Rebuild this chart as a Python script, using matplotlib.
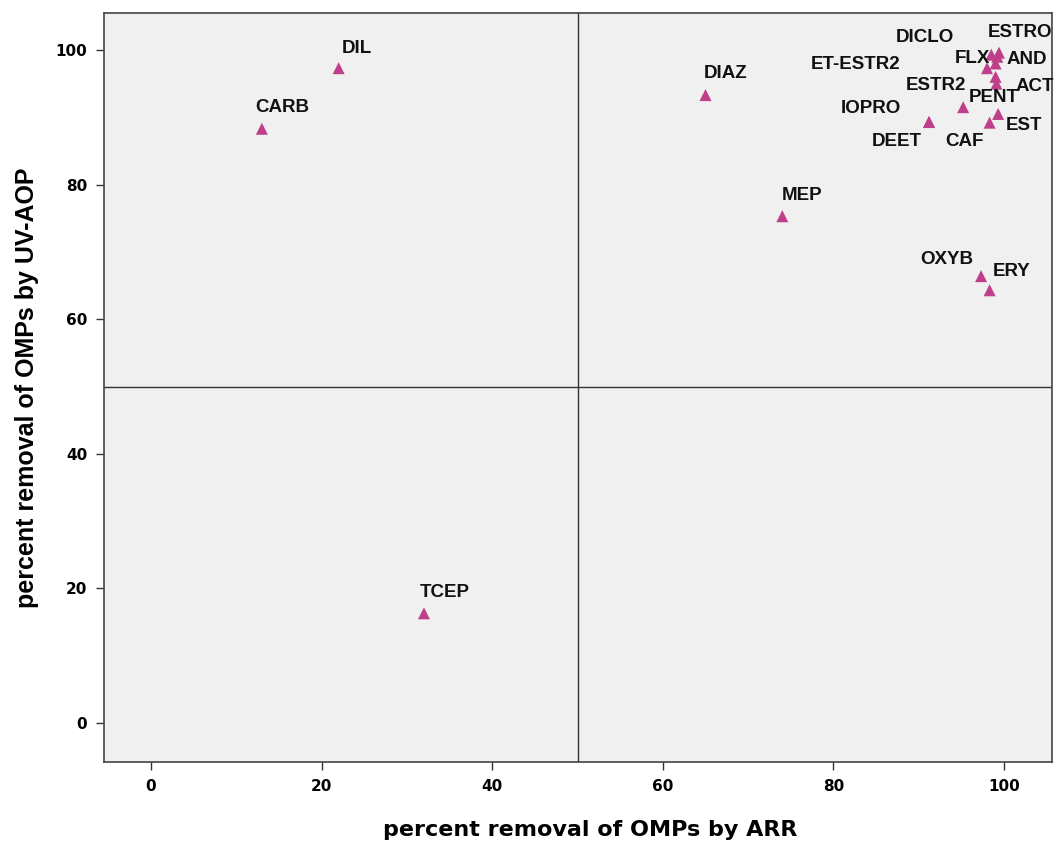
import matplotlib
matplotlib.use("Agg")
import matplotlib.pyplot as plt

plt.rcParams['font.family'] = ['Liberation Sans', 'DejaVu Sans']

names = ["DIL", "CARB", "TCEP", "DIAZ", "MEP", "OXYB", "ERY", "IOPRO", "DEET",
         "CAF", "EST", "PENT", "ESTR2", "ET-ESTR2", "DICLO", "FLX", "ESTRO", "AND", "ACT"]
arr = [22, 13, 32, 65, 74, 97.3, 98.3, 91.2, 91.2,
       98.3, 99.3, 95.2, 99.0, 98.0, 99.2, 98.5, 99.4, 99.0, 99.1]
uvaop = [97.3, 88.3, 16.3, 93.3, 75.3, 66.4, 64.3, 89.3, 89.3,
         89.2, 90.5, 91.5, 96.0, 97.3, 99.0, 99.3, 99.6, 98.0, 95.0]

# label offsets in pixels (dx, dy; dy positive = up) for the label centre
offsets = {
    "DIL": (18, 20), "CARB": (20, 21), "TCEP": (21, 21), "DIAZ": (20, 22),
    "MEP": (20, 21), "OXYB": (-34, 17), "ERY": (22, 19), "IOPRO": (-58, 14),
    "DEET": (-32, -19), "CAF": (-25, -19), "EST": (26, -12), "PENT": (31, 10),
    "ESTR2": (-60, -9), "ET-ESTR2": (-131, 4), "DICLO": (-72, 19),
    "FLX": (-19, -4), "ESTRO": (21, 20), "AND": (31, 4), "ACT": (38, -3),
}

fig = plt.figure(figsize=(10.54, 8.43), dpi=100)
ax = fig.add_axes([0.0987, 0.096, 0.8993, 0.8886])
ax.set_facecolor('#F0F0F0')

ax.axvline(50, color='#333333', lw=1.0, zorder=1)
ax.axhline(50, color='#333333', lw=1.0, zorder=1)

ax.scatter(arr, uvaop, marker='^', s=75, color='#BF3F8B', edgecolors='none', zorder=3)

for n, x, y in zip(names, arr, uvaop):
    dx, dy = offsets[n]
    ax.annotate(n, (x, y), xytext=(dx * 0.72, dy * 0.72), textcoords='offset points',
                ha='center', va='center', fontsize=13.5, fontweight='bold', color='#111111', zorder=4)

ax.set_xlim(-5.5, 105.6)
ax.set_ylim(-5.8, 105.5)
ax.set_xticks([0, 20, 40, 60, 80, 100])
ax.set_yticks([0, 20, 40, 60, 80, 100])
ax.tick_params(direction='out', length=6, width=1, color='#333333', labelsize=11, pad=6)
for lab in ax.get_xticklabels() + ax.get_yticklabels():
    lab.set_fontweight('bold')
    lab.set_family('DejaVu Sans')
for s in ax.spines.values():
    s.set_color('#444444')
    s.set_linewidth(1.2)

ax.set_xlabel('percent removal of OMPs by ARR', fontsize=16, fontweight='bold',
              family='DejaVu Sans')
ax.xaxis.label.set_va('center')
ax.xaxis.set_label_coords(0.5125, -0.091)
ax.set_ylabel('percent removal of OMPs by UV-AOP', fontsize=18, fontweight='bold', labelpad=12)

fig.savefig('out.png', dpi=100)
